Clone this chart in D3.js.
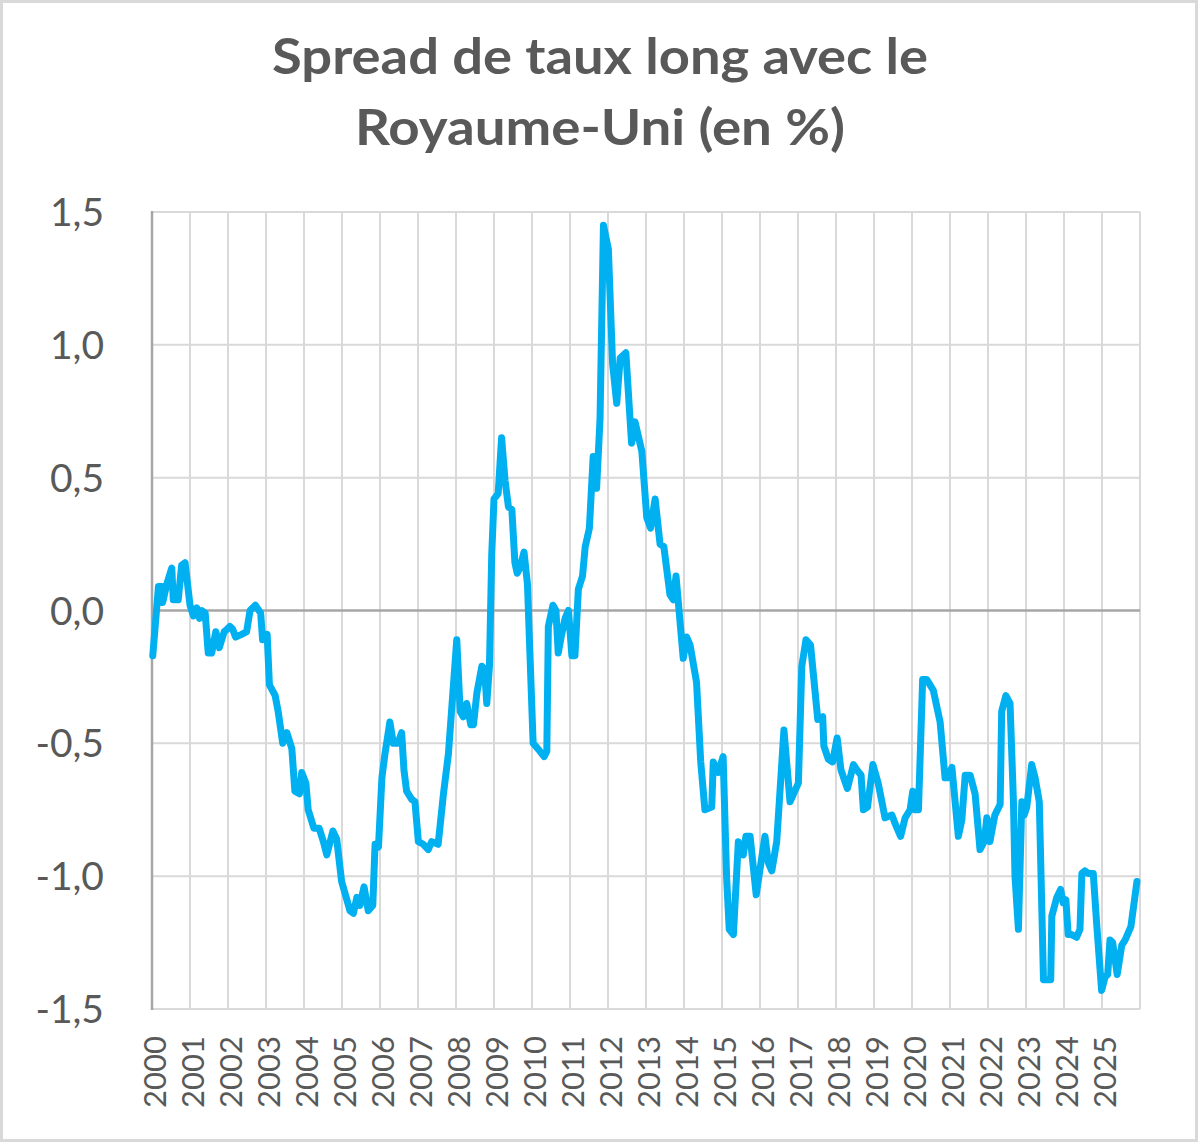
<!DOCTYPE html>
<html>
<head>
<meta charset="utf-8">
<script src="https://cdn.jsdelivr.net/npm/d3@7"></script>
<style>
  html, body { margin: 0; padding: 0; background: #ffffff; }
  svg { display: block; }
</style>
</head>
<body>
<svg id="chart" width="1200" height="1144"></svg>
<script>
// ---------- data ----------
const titleLines = ["Spread de taux long avec le", "Royaume-Uni (en %)"];
const yearLabels = ["2000","2001","2002","2003","2004","2005","2006","2007","2008","2009","2010","2011","2012","2013","2014","2015","2016","2017","2018","2019","2020","2021","2022","2023","2024","2025"];
const yTicks = [-1.5, -1.0, -0.5, 0.0, 0.5, 1.0, 1.5];

// time in years elapsed since 1 Jan 2000
const dates = [
  0.02,0.17,0.26,0.28,0.39,0.52,0.56,0.69,0.78,0.87,
  1.00,1.09,1.18,1.25,1.31,1.40,1.48,1.57,1.68,1.77,
  1.90,1.98,2.05,2.12,2.20,2.36,2.49,2.58,2.72,2.86,
  2.91,3.03,3.09,3.24,3.32,3.44,3.55,3.68,3.76,3.88,
  3.94,4.05,4.11,4.26,4.40,4.51,4.60,4.76,4.86,4.99,
  5.21,5.30,5.39,5.47,5.58,5.69,5.81,5.87,5.96,6.05,
  6.13,6.26,6.35,6.47,6.57,6.63,6.70,6.83,6.92,7.01,
  7.14,7.27,7.36,7.53,7.67,7.80,8.02,8.11,8.19,8.28,
  8.39,8.46,8.55,8.68,8.75,8.81,8.88,8.94,9.00,9.11,
  9.20,9.29,9.38,9.47,9.55,9.61,9.68,9.79,9.88,10.03,
  10.21,10.32,10.39,10.43,10.55,10.63,10.69,10.78,10.87,10.96,
  11.05,11.13,11.22,11.33,11.40,11.51,11.61,11.70,11.79,11.88,
  12.01,12.12,12.23,12.32,12.47,12.62,12.71,12.89,13.02,13.12,
  13.24,13.37,13.47,13.63,13.72,13.79,13.98,14.07,14.16,14.33,
  14.44,14.55,14.73,14.77,14.90,15.03,15.12,15.19,15.30,15.43,
  15.56,15.63,15.74,15.90,16.13,16.22,16.31,16.44,16.63,16.79,
  17.01,17.10,17.21,17.33,17.52,17.65,17.68,17.80,17.91,18.03,
  18.13,18.30,18.46,18.55,18.66,18.72,18.83,18.97,19.11,19.29,
  19.47,19.55,19.70,19.82,19.95,20.02,20.08,20.17,20.28,20.39,
  20.56,20.74,20.87,20.96,21.05,21.22,21.31,21.40,21.53,21.66,
  21.79,21.90,21.97,22.05,22.18,22.32,22.36,22.47,22.58,22.67,
  22.71,22.80,22.89,22.95,23.02,23.15,23.24,23.35,23.46,23.55,
  23.65,23.68,23.81,23.91,23.98,24.05,24.11,24.20,24.33,24.42,
  24.47,24.55,24.64,24.77,24.86,24.99,25.08,25.15,25.21,25.28,
  25.40,25.52,25.61,25.76,25.92
];
const spread = [
  -0.17,0.09,0.09,0.03,0.10,0.16,0.04,0.04,0.17,0.18,
  0.02,-0.02,0.01,-0.03,0.00,-0.01,-0.16,-0.16,-0.08,-0.14,
  -0.08,-0.07,-0.06,-0.07,-0.10,-0.09,-0.08,0.00,0.02,-0.01,
  -0.11,-0.09,-0.28,-0.32,-0.38,-0.50,-0.46,-0.52,-0.68,-0.69,
  -0.61,-0.65,-0.75,-0.82,-0.82,-0.87,-0.92,-0.83,-0.86,-1.02,
  -1.13,-1.14,-1.08,-1.11,-1.04,-1.13,-1.11,-0.88,-0.89,-0.63,
  -0.54,-0.42,-0.50,-0.50,-0.46,-0.60,-0.68,-0.71,-0.72,-0.87,
  -0.88,-0.90,-0.87,-0.88,-0.69,-0.54,-0.11,-0.38,-0.40,-0.35,
  -0.43,-0.43,-0.31,-0.21,-0.22,-0.35,-0.21,0.21,0.42,0.44,
  0.65,0.49,0.39,0.38,0.18,0.14,0.16,0.22,0.10,-0.50,
  -0.53,-0.55,-0.53,-0.06,0.02,0.00,-0.16,-0.09,-0.03,0.00,
  -0.17,-0.17,0.08,0.13,0.24,0.31,0.58,0.46,0.72,1.45,
  1.36,0.93,0.78,0.95,0.97,0.63,0.71,0.60,0.35,0.31,
  0.42,0.25,0.24,0.06,0.04,0.13,-0.18,-0.10,-0.13,-0.27,
  -0.57,-0.75,-0.74,-0.57,-0.61,-0.55,-1.00,-1.20,-1.22,-0.87,
  -0.92,-0.85,-0.85,-1.07,-0.85,-0.95,-0.98,-0.87,-0.45,-0.72,
  -0.65,-0.21,-0.11,-0.13,-0.41,-0.40,-0.51,-0.56,-0.57,-0.48,
  -0.60,-0.67,-0.58,-0.60,-0.62,-0.75,-0.74,-0.58,-0.65,-0.78,
  -0.77,-0.80,-0.85,-0.78,-0.75,-0.68,-0.75,-0.75,-0.26,-0.26,
  -0.30,-0.42,-0.63,-0.63,-0.59,-0.85,-0.79,-0.62,-0.62,-0.69,
  -0.90,-0.87,-0.78,-0.87,-0.77,-0.73,-0.38,-0.32,-0.35,-0.72,
  -1.00,-1.20,-0.72,-0.77,-0.74,-0.58,-0.63,-0.72,-1.39,-1.39,
  -1.39,-1.15,-1.08,-1.05,-1.10,-1.09,-1.22,-1.22,-1.23,-1.20,
  -0.99,-0.98,-0.99,-0.99,-1.18,-1.43,-1.38,-1.37,-1.24,-1.25,
  -1.37,-1.26,-1.24,-1.19,-1.02
];

// ---------- layout ----------
const svg = d3.select("#chart");
const W = 1200, H = 1144;
const plot = { left: 152, right: 1140, top: 212, bottom: 1009 };
const textColor = "#595959";
const fontStack = "Lato, 'Open Sans', 'Liberation Sans', sans-serif";

// outer border
svg.append("rect")
  .attr("x", 1.5).attr("y", 1.5)
  .attr("width", W - 5).attr("height", H - 5)
  .attr("fill", "#ffffff")
  .attr("stroke", "#d9d9d9").attr("stroke-width", 3);

const x = d3.scaleLinear().domain([0, yearLabels.length]).range([plot.left, plot.right]);
const y = d3.scaleLinear().domain([-1.5, 1.5]).range([plot.bottom, plot.top]);

// horizontal gridlines
svg.append("g").selectAll("line")
  .data(yTicks.filter(d => d !== 0))
  .join("line")
  .attr("x1", plot.left).attr("x2", plot.right)
  .attr("y1", d => y(d)).attr("y2", d => y(d))
  .attr("stroke", "#d9d9d9").attr("stroke-width", 2);

// vertical gridlines (year boundaries)
svg.append("g").selectAll("line")
  .data(d3.range(1, yearLabels.length + 1))
  .join("line")
  .attr("x1", d => x(d)).attr("x2", d => x(d))
  .attr("y1", plot.top).attr("y2", plot.bottom)
  .attr("stroke", "#d9d9d9").attr("stroke-width", 2);

// zero line & left axis line
svg.append("line")
  .attr("x1", plot.left).attr("x2", plot.right)
  .attr("y1", y(0)).attr("y2", y(0))
  .attr("stroke", "#a6a6a6").attr("stroke-width", 2.5);
svg.append("line")
  .attr("x1", plot.left).attr("x2", plot.left)
  .attr("y1", plot.top - 1).attr("y2", plot.bottom + 1)
  .attr("stroke", "#a6a6a6").attr("stroke-width", 2.5);

// y tick labels
svg.append("g").selectAll("text")
  .data(yTicks)
  .join("text")
  .attr("x", 104)
  .attr("y", d => y(d))
  .attr("dy", "0.36em")
  .attr("text-anchor", "end")
  .attr("font-family", fontStack)
  .attr("font-size", 39)
  .attr("fill", textColor)
  .text(d => d3.format(".1f")(d).replace("−", "-").replace(".", ","));

// x tick labels (rotated)
svg.append("g").selectAll("text")
  .data(yearLabels)
  .join("text")
  .attr("transform", (d, i) => `translate(${x(i) + 3},1036) rotate(-90)`)
  .attr("dy", "0.36em")
  .attr("text-anchor", "end")
  .attr("font-family", fontStack)
  .attr("font-size", 31)
  .attr("fill", textColor)
  .text(d => d);

// data line
const pts = dates.map((t, i) => [t, spread[i]]);
svg.append("path")
  .datum(pts)
  .attr("fill", "none")
  .attr("stroke", "#00b0f0")
  .attr("stroke-width", 7)
  .attr("stroke-linejoin", "round")
  .attr("stroke-linecap", "round")
  .attr("d", d3.line().x(d => x(d[0])).y(d => y(d[1])));

// title
const titleWidths = [656, 490];
svg.append("g").selectAll("text")
  .data(titleLines)
  .join("text")
  .attr("x", 600)
  .attr("y", (d, i) => 74 + i * 71)
  .attr("text-anchor", "middle")
  .attr("font-family", fontStack)
  .attr("font-weight", "bold")
  .attr("font-size", 49)
  .attr("textLength", (d, i) => titleWidths[i])
  .attr("lengthAdjust", "spacingAndGlyphs")
  .attr("fill", textColor)
  .text(d => d);
</script>
</body>
</html>
